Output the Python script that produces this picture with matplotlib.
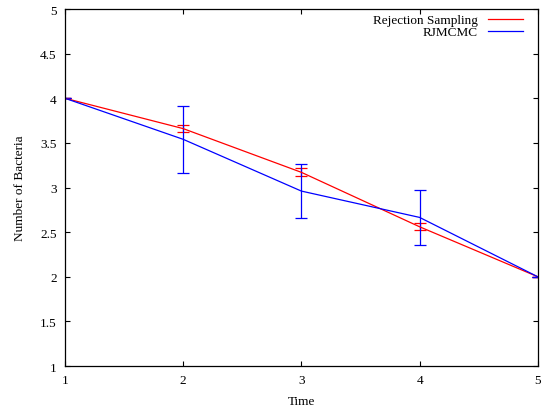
import matplotlib.pyplot as plt
import numpy as np

plt.rcParams['font.family'] = ['Liberation Serif', 'DejaVu Serif']
plt.rcParams['font.size'] = 9.5

# data
time = [1, 2, 3, 4, 5]
rej_mean = [4.0, 3.66, 3.17, 2.56, 2.0]
rej_err = [0.0, 0.04, 0.045, 0.04, 0.0]
rj_mean = [4.0, 3.54, 2.96, 2.665, 2.0]
rj_err = [0.0, 0.375, 0.305, 0.305, 0.0]

xticks = [1, 2, 3, 4, 5]
yticks = [1, 1.5, 2, 2.5, 3, 3.5, 4, 4.5, 5]
yticklabels = ['1', '1.5', '2', '2.5', '3', '3.5', '4', '4.5', '5']

fig = plt.figure(figsize=(5.46, 4.14), dpi=100)
ax = fig.add_axes([0.119, 0.1135, 0.866, 0.8623])

ax.errorbar(time, rej_mean, yerr=rej_err, color='#ff0000', lw=0.9,
            capsize=4, capthick=0.9, elinewidth=0.9, label='Rejection Sampling')
ax.errorbar(time, rj_mean, yerr=rj_err, color='#0000ff', lw=0.9,
            capsize=4, capthick=0.9, elinewidth=0.9, label='RJMCMC')

ax.set_xlim(1, 5)
ax.set_ylim(1, 5)
ax.set_xticks(xticks)
ax.set_xticklabels([str(t) for t in xticks])
ax.set_yticks(yticks)
ax.set_yticklabels(yticklabels)
ax.tick_params(direction='in', top=True, right=True, length=3.5, width=0.8, pad=6)
for s in ax.spines.values():
    s.set_linewidth(0.9)

ax.set_xlabel('Time', labelpad=6)
ax.set_ylabel('Number of Bacteria', labelpad=10)

handles, labels = ax.get_legend_handles_labels()
handles = [h[0] for h in handles]
leg = ax.legend(handles, labels, loc='upper right', frameon=False, markerfirst=False,
                handlelength=2.65, handletextpad=0.75, labelspacing=0.0,
                borderaxespad=0.3, bbox_to_anchor=(0.988, 1.012))

fig.savefig('out.png', dpi=100)
